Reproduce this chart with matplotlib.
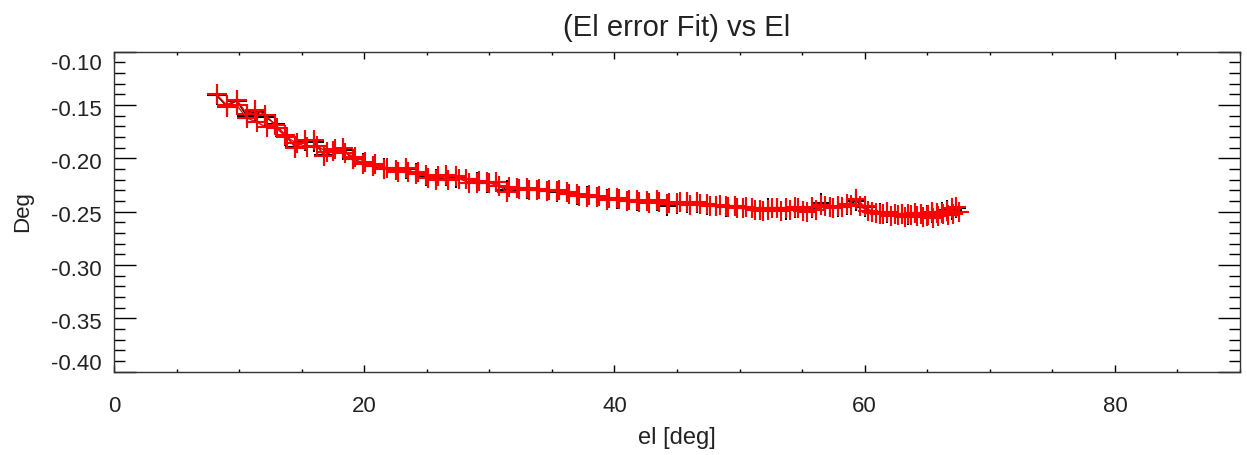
import matplotlib
matplotlib.use('Agg')
import matplotlib.pyplot as plt
from matplotlib.ticker import MultipleLocator, FixedLocator, FixedFormatter
from matplotlib.transforms import ScaledTranslation

plt.rcParams['font.family'] = ['Liberation Sans', 'DejaVu Sans']
plt.rcParams['axes.unicode_minus'] = False

# ---------------- data ----------------
title = "(El error Fit) vs El"
xlabel = "el [deg]"
ylabel = "Deg"

x_ticks = [0, 20, 40, 60, 80]
x_ticklabels = ["0", "20", "40", "60", "80"]
y_ticks = [-0.40, -0.35, -0.30, -0.25, -0.20, -0.15, -0.10]
y_ticklabels = ["-0.40", "-0.35", "-0.30", "-0.25", "-0.20", "-0.15", "-0.10"]

# elevation of the rising pass
el_up = [8.2, 9.0, 9.8, 10.6, 11.3,
         12.1, 12.9, 13.7, 14.5, 15.3,
         16.0, 16.8, 17.5, 18.3, 19.1,
         19.9, 20.7, 21.6, 22.5, 23.3,
         24.1, 24.9, 25.7, 26.5, 27.3,
         28.1, 29.0, 29.8, 30.5, 31.4,
         32.2, 33.0, 33.8, 34.6, 35.4,
         36.2, 37.0, 37.8, 38.6, 39.4,
         40.2, 41.0, 41.8, 42.6, 43.4,
         44.2, 45.0, 45.8, 46.6, 47.4,
         48.1, 48.9, 49.6, 50.3, 51.0,
         51.6, 52.3, 53.0, 53.7, 54.4,
         55.1, 55.8, 56.5, 57.2, 57.9,
         58.6, 59.3, 60.0, 60.6, 61.2,
         61.8, 62.4, 63.0, 63.5, 64.0,
         64.5, 65.0, 65.4, 65.8, 66.2,
         66.6, 67.0, 67.3]

# black series (rising pass)
black_err = [-0.141, -0.151, -0.146, -0.160, -0.157,
             -0.161, -0.168, -0.179, -0.189, -0.184,
             -0.185, -0.197, -0.193, -0.192, -0.201,
             -0.204, -0.207, -0.209, -0.211, -0.210,
             -0.214, -0.217, -0.219, -0.217, -0.218,
             -0.219, -0.222, -0.223, -0.222, -0.230,
             -0.228, -0.229, -0.230, -0.231, -0.232,
             -0.232, -0.234, -0.235, -0.236, -0.238,
             -0.238, -0.240, -0.240, -0.240, -0.240,
             -0.245, -0.243, -0.242, -0.242, -0.244,
             -0.245, -0.246, -0.245, -0.247, -0.247,
             -0.248, -0.247, -0.247, -0.248, -0.247,
             -0.249, -0.247, -0.242, -0.246, -0.246,
             -0.244, -0.240, -0.246, -0.250, -0.251,
             -0.251, -0.252, -0.252, -0.253, -0.251,
             -0.252, -0.253, -0.251, -0.251, -0.250,
             -0.248, -0.248, -0.247]

# red series, rising pass
red_up = [-0.140, -0.150, -0.145, -0.158, -0.155,
          -0.159, -0.169, -0.178, -0.190, -0.183,
          -0.183, -0.198, -0.193, -0.190, -0.201,
          -0.205, -0.207, -0.210, -0.211, -0.209,
          -0.215, -0.216, -0.220, -0.216, -0.217,
          -0.219, -0.223, -0.222, -0.222, -0.232,
          -0.228, -0.228, -0.230, -0.231, -0.231,
          -0.232, -0.233, -0.236, -0.236, -0.239,
          -0.237, -0.240, -0.239, -0.240, -0.239,
          -0.243, -0.242, -0.241, -0.241, -0.243,
          -0.245, -0.245, -0.245, -0.247, -0.247,
          -0.248, -0.248, -0.247, -0.247, -0.246,
          -0.249, -0.246, -0.244, -0.246, -0.245,
          -0.243, -0.238, -0.245, -0.250, -0.252,
          -0.250, -0.252, -0.252, -0.252, -0.251,
          -0.252, -0.254, -0.250, -0.251, -0.251,
          -0.249, -0.247, -0.246]

# elevation of the descending pass
el_down = [67.5, 67.1, 66.7, 66.3, 65.9,
           65.5, 65.1, 64.7, 64.2, 63.7,
           63.2, 62.7, 62.1, 61.5, 60.9,
           60.3, 59.6, 58.9, 58.2, 57.5,
           56.8, 56.1, 55.4, 54.7, 54.0,
           53.3, 52.6, 51.9, 51.2, 50.5,
           49.8, 49.1, 48.4, 47.6, 46.8,
           46.0, 45.2, 44.4, 43.6, 42.8,
           42.0, 41.2, 40.4, 39.6, 38.8,
           38.0, 37.2, 36.4, 35.6, 34.8,
           34.0, 33.2, 32.4, 31.6, 30.8,
           30.0, 29.2, 28.4, 27.6, 26.7,
           25.9, 25.1, 24.3, 23.5, 22.7,
           21.8, 20.9, 20.1, 19.3, 18.5,
           17.7, 17.0, 16.2, 15.4, 14.6,
           13.8, 13.0, 12.2, 11.4, 10.6,
           9.8, 9.0]

# red series, descending pass
red_down = [-0.250, -0.252, -0.253, -0.252, -0.254,
            -0.256, -0.253, -0.255, -0.254, -0.253,
            -0.255, -0.253, -0.254, -0.252, -0.251,
            -0.249, -0.245, -0.244, -0.246, -0.247,
            -0.245, -0.248, -0.250, -0.247, -0.248,
            -0.249, -0.247, -0.249, -0.248, -0.246,
            -0.247, -0.246, -0.244, -0.245, -0.243,
            -0.244, -0.241, -0.242, -0.241, -0.242,
            -0.241, -0.239, -0.238, -0.237, -0.235,
            -0.234, -0.235, -0.233, -0.230, -0.230,
            -0.229, -0.230, -0.229, -0.227, -0.226,
            -0.223, -0.221, -0.223, -0.219, -0.220,
            -0.217, -0.218, -0.213, -0.213, -0.213,
            -0.209, -0.205, -0.203, -0.199, -0.195,
            -0.191, -0.194, -0.188, -0.189, -0.186,
            -0.180, -0.172, -0.171, -0.166, -0.162,
            -0.150, -0.152]

# ---------------- figure ----------------
W, H = 1247, 455
fig = plt.figure(figsize=(W / 100, H / 100), dpi=100)
ax = fig.add_axes([114 / W, 1 - 371.7 / H, (1240 - 114) / W, 320 / H])

txt = '#222222'
ax.plot(el_up, black_err, color='black', marker='+', ms=14, mew=1.5, lw=1.0)
ax.plot(el_up + el_down, red_up + red_down, color='red', marker='+',
        ms=14, mew=1.5, lw=1.0)

ax.set_xlim(0, 90)
ax.set_ylim(-0.40, -0.10)

ax.xaxis.set_major_locator(FixedLocator(x_ticks))
ax.xaxis.set_major_formatter(FixedFormatter(x_ticklabels))
ax.xaxis.set_minor_locator(MultipleLocator(5))
ax.yaxis.set_major_locator(FixedLocator(y_ticks))
ax.yaxis.set_major_formatter(FixedFormatter(y_ticklabels))
ax.yaxis.set_minor_locator(MultipleLocator(0.01))

ax.tick_params(axis='both', which='both', direction='in', top=True, right=True,
               colors='black', labelcolor=txt, labelsize=16, width=1.0)
ax.tick_params(axis='x', which='major', length=4.7, pad=17.5)
ax.tick_params(axis='x', which='minor', length=2.4)
ax.tick_params(axis='y', which='major', length=15.8, pad=8.6)
ax.tick_params(axis='y', which='minor', length=7.9)

for s in ax.spines.values():
    s.set_linewidth(1.0)
    s.set_color('#333333')

ax.set_title(title, fontsize=21, color=txt, pad=11)
ax.set_xlabel(xlabel, fontsize=17, color=txt, va='top')
ax.xaxis.set_label_coords(0.5, -0.172)
ax.set_ylabel(ylabel, fontsize=16, color=txt)
ax.yaxis.set_label_coords(-0.072, 0.5)

fig.canvas.draw()
for lab, val in zip(ax.yaxis.get_majorticklabels(), y_ticks):
    lab.set_va('center')
    if abs(val + 0.10) < 1e-9:
        dy = -13
    elif abs(val + 0.40) < 1e-9:
        dy = 7
    else:
        dy = -5
    lab.set_transform(lab.get_transform() + ScaledTranslation(0, dy / 100, fig.dpi_scale_trans))

fig.savefig('out.png', dpi=100)
